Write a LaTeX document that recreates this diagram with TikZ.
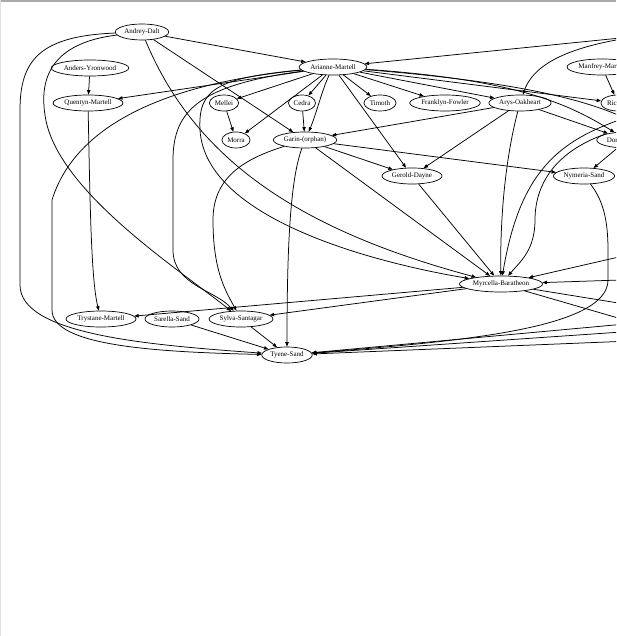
\documentclass[tikz,border=0pt]{standalone}
\usepackage{fontspec}
\setmainfont{Liberation Serif}
\usetikzlibrary{shapes.geometric,arrows.meta}
\begin{document}
\begin{tikzpicture}[x=1pt,y=-1pt,
  pers/.style={draw, ellipse, inner xsep=1.2pt, inner ysep=0pt, minimum height=16pt, line width=0.7pt, font=\fontsize{7}{8}\selectfont},
  link/.style={-{Triangle[length=4.5pt,width=3.4pt]}, line width=0.75pt}]
% Define colors
\definecolor{colorframe}{HTML}{A9A9A9}
\definecolor{colorside}{HTML}{E0E0E0}
\useasboundingbox (0,0) rectangle (616,636);
\clip (0,0) rectangle (616,636);
\fill[color=colorframe] (0,0) rectangle (616,2.5);
\fill[color=colorside] (0,0) rectangle (1.2,636);
  % Define nodes
  \node[pers] (AndreyDalt) at (142,32) {Andrey-Dalt};
  \node[pers] (AndersYronwood) at (90,68) {Anders-Yronwood};
  \node[pers] (ArianneMartell) at (333,67) {Arianne-Martell};
  \node[pers] (ManfreyMartell) at (602,67) {Manfrey-Martell};
  \node[pers] (QuentynMartell) at (88,103) {Quentyn-Martell};
  \node[pers] (Mellei) at (224,103) {Mellei};
  \node[pers] (Cedra) at (302,103) {Cedra};
  \node[pers] (Timoth) at (380,103) {Timoth};
  \node[pers] (FranklynFowler) at (445,103) {Franklyn-Fowler};
  \node[pers] (ArysOakheart) at (520,103) {Arys-Oakheart};
  \node[pers] (Ricasso) at (618,103) {Ricasso};
  \node[pers] (Morra) at (236,140) {Morra};
  \node[pers] (GarinOrphan) at (305,140) {Garin-(orphan)};
  \node[pers] (DoranMartell) at (627,140) {Doran-Martell};
  \node[pers] (GeroldDayne) at (412,176) {Gerold-Dayne};
  \node[pers] (NymeriaSand) at (584,176) {Nymeria-Sand};
  \node[pers] (MyrcellaBaratheon) at (501,284) {Myrcella-Baratheon};
  \node[pers] (TrystaneMartell) at (101,319) {Trystane-Martell};
  \node[pers] (SarellaSand) at (172,319) {Sarella-Sand};
  \node[pers] (SylvaSantagar) at (241,319) {Sylva-Santagar};
  \node[pers] (TyeneSand) at (287,355) {Tyene-Sand};
  % free ends beyond the right edge
  \coordinate (offTop) at (680,32);
  \coordinate (offA) at (680,243);
  \coordinate (offB) at (680,278);
  \coordinate (offC) at (680,313);
  \coordinate (offD) at (680,336);
  \coordinate (offE) at (680,319);
  \coordinate (offF) at (680,328);
  \coordinate (offG) at (680,339);
  % Draw arrows
  \draw[link] (AndreyDalt) -- (ArianneMartell);
  \draw[link] (AndreyDalt) -- (GarinOrphan);
  \draw[link] (AndreyDalt) .. controls (40,36) and (20,60) .. (20,110) -- (20,285) .. controls (20,335) and (150,345) .. (TyeneSand);
  \draw[link] (AndreyDalt) .. controls (60,42) and (38,70) .. (45,115) .. controls (55,190) and (180,270) .. (SylvaSantagar);
  \draw[link] (AndreyDalt) .. controls (195,160) and (300,230) .. (MyrcellaBaratheon);
  \draw[link] (AndersYronwood) -- (QuentynMartell);
  \draw[link] (QuentynMartell) .. controls (90,200) and (91,280) .. (TrystaneMartell);
  \draw[link] (offTop) -- (ArianneMartell);
  \draw[link] (offTop) .. controls (580,40) and (535,60) .. (ArysOakheart);
  \draw[link] (ArianneMartell) -- (QuentynMartell);
  \draw[link] (ArianneMartell) .. controls (200,80) and (80,110) .. (52,200) -- (52,310) .. controls (52,345) and (150,352) .. (TyeneSand);
  \draw[link] (ArianneMartell) .. controls (200,85) and (173,110) .. (173,160) -- (173,250) .. controls (173,285) and (215,290) .. (SylvaSantagar);
  \draw[link] (ArianneMartell) .. controls (215,78) and (198,90) .. (200,130) .. controls (205,215) and (360,260) .. (MyrcellaBaratheon);
  \draw[link] (ArianneMartell) -- (Mellei);
  \draw[link] (ArianneMartell) -- (Morra);
  \draw[link] (ArianneMartell) -- (Cedra);
  \draw[link] (ArianneMartell) .. controls (322,90) and (316,115) .. (GarinOrphan);
  \draw[link] (ArianneMartell) -- (Timoth);
  \draw[link] (ArianneMartell) -- (FranklynFowler);
  \draw[link] (ArianneMartell) -- (ArysOakheart);
  \draw[link] (ArianneMartell) -- (GeroldDayne);
  \draw[link] (ArianneMartell) -- (Ricasso);
  \draw[link] (ArianneMartell) .. controls (520,80) and (570,105) .. (DoranMartell);
  \draw[link] (ArianneMartell) .. controls (520,82) and (585,100) .. (625,118) .. controls (560,140) and (520,170) .. (MyrcellaBaratheon);
  \draw[link] (ManfreyMartell) -- (Ricasso);
  \draw[link] (Mellei) -- (Morra);
  \draw[link] (Cedra) -- (GarinOrphan);
  \draw[link] (ArysOakheart) -- (GarinOrphan);
  \draw[link] (ArysOakheart) -- (GeroldDayne);
  \draw[link] (ArysOakheart) -- (DoranMartell);
  \draw[link] (ArysOakheart) .. controls (505,160) and (500,220) .. (MyrcellaBaratheon);
  \draw[link] (GarinOrphan) -- (GeroldDayne);
  \draw[link] (GarinOrphan) -- (NymeriaSand);
  \draw[link] (GarinOrphan) -- (MyrcellaBaratheon);
  \draw[link] (GarinOrphan) .. controls (240,160) and (213,180) .. (213,220) .. controls (213,270) and (225,290) .. (SylvaSantagar);
  \draw[link] (GarinOrphan) .. controls (290,180) and (287,250) .. (TyeneSand);
  \draw[link] (DoranMartell.165) .. controls (560,150) and (535,180) .. (535,220) .. controls (535,250) and (520,262) .. (MyrcellaBaratheon);
  \draw[link] (DoranMartell) -- (NymeriaSand);
  \draw[link] (GeroldDayne) -- (MyrcellaBaratheon);
  \draw[link] (NymeriaSand) .. controls (603,200) and (608,220) .. (608,250) -- (608,280) .. controls (608,330) and (450,342) .. (TyeneSand);
  \draw[link] (offA) -- (MyrcellaBaratheon);
  \draw[link] (offB) -- (MyrcellaBaratheon);
  \draw[link] (MyrcellaBaratheon) -- (offC);
  \draw[link] (MyrcellaBaratheon) -- (offD);
  \draw[link] (MyrcellaBaratheon) -- (TrystaneMartell);
  \draw[link] (MyrcellaBaratheon) -- (SylvaSantagar);
  \draw[link] (SarellaSand) -- (TyeneSand);
  \draw[link] (SylvaSantagar) -- (TyeneSand);
  \draw[link] (offE) -- (TyeneSand);
  \draw[link] (offF) -- (TyeneSand);
  \draw[link] (offG) -- (TyeneSand);
\end{tikzpicture}
\end{document}
